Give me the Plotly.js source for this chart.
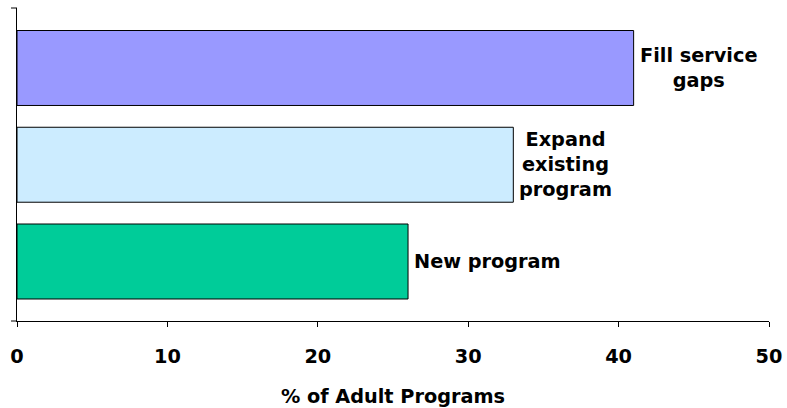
<!DOCTYPE html>
<html>
<head>
<meta charset="utf-8">
<script src="https://cdn.plot.ly/plotly-3.0.1.min.js"></script>
<style>html,body{margin:0;padding:0;background:#fff;}#chart{width:787px;height:408px;}</style>
</head>
<body>
<div id="chart"></div>
<script>
// Data (bottom to top)
var categories = ["New program", "Expand existing program", "Fill service gaps"];
var labels = ["New program", "Expand<br>existing<br>program", "Fill service<br>gaps"];
var values = [26, 33, 41];
var colors = ["#00CC99", "#CCECFF", "#9999FF"];
var xTickVals = [0, 10, 20, 30, 40, 50];
var xTitle = "% of Adult Programs";

var font = {family: "DejaVu Sans, Verdana, sans-serif", size: 19.3, color: "#000", weight: 700};

var trace = {
  type: "bar",
  orientation: "h",
  y: categories,
  x: values,
  cliponaxis: false,
  marker: {color: colors, line: {color: "#000", width: 1}},
  hoverinfo: "none"
};

var annotations = categories.map(function (c, i) {
  return {
    x: values[i], y: c, xref: "x", yref: "y",
    text: labels[i], showarrow: false,
    xanchor: "left", yanchor: "middle", align: "center",
    xshift: 4, font: font
  };
});

var layout = {
  width: 787, height: 408,
  margin: {l: 17, r: 18, t: 8, b: 87},
  paper_bgcolor: "#fff", plot_bgcolor: "#fff",
  showlegend: false,
  bargap: 0.225,
  font: font,
  annotations: annotations,
  xaxis: {
    range: [0, 50], tickmode: "array", tickvals: xTickVals,
    ticks: "outside", ticklen: 5, tickcolor: "#000", tickwidth: 1,
    ticklabelstandoff: 13,
    showline: true, linecolor: "#000", linewidth: 1,
    showgrid: false, zeroline: false,
    tickfont: font,
    title: {text: xTitle, font: font, standoff: 22}
  },
  yaxis: {
    type: "category", range: [-0.615, 2.62], autorange: false,
    showticklabels: false, ticks: "",
    showline: true, linecolor: "#000", linewidth: 1,
    showgrid: false, zeroline: false
  },
  shapes: [
    {type: "line", xref: "paper", yref: "paper", x0: -6/752, x1: 0, y0: 1, y1: 1, line: {color: "#000", width: 1}},
    {type: "line", xref: "paper", yref: "paper", x0: -6/752, x1: 0, y0: 0, y1: 0, line: {color: "#000", width: 1}}
  ]
};

Plotly.newPlot("chart", [trace], layout, {displayModeBar: false, staticPlot: true});
</script>
</body>
</html>
